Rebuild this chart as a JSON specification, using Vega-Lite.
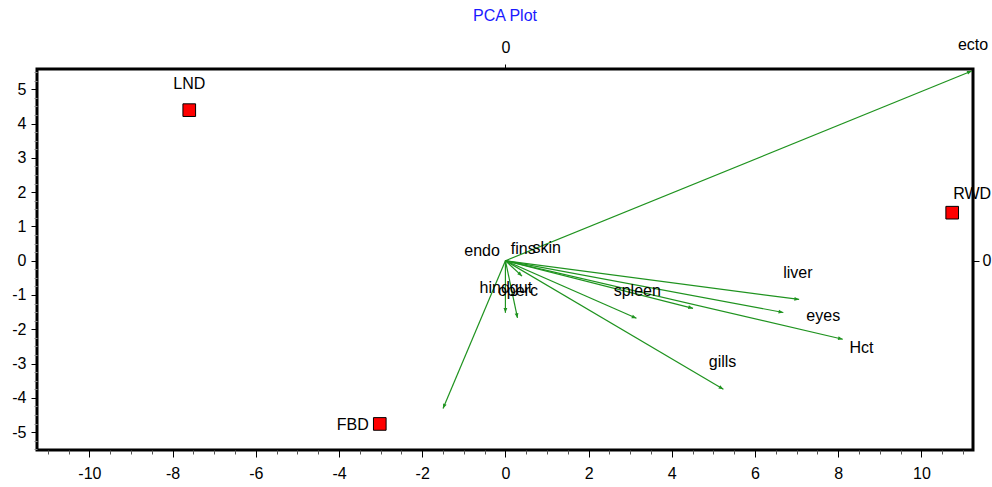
{
  "$schema": "https://vega.github.io/schema/vega-lite/v6.json",
  "width": 936,
  "height": 381,
  "autosize": {"type": "none"},
  "padding": {"left": 37, "top": 69, "right": 19, "bottom": 37},
  "background": "white",
  "title": {"text": "PCA Plot", "color": "#1a1aff", "fontSize": 16, "fontWeight": "normal", "font": "Liberation Sans", "offset": 13, "anchor": "middle"},
  "config": {
    "view": {"stroke": "black", "strokeWidth": 3},
    "font": "Liberation Sans",
    "axis": {"labelFont": "Liberation Sans", "labelFontSize": 16, "labelColor": "#000", "grid": false, "domain": false, "tickColor": "#000", "title": null, "labelOverlap": false, "labelFlush": false}
  },
  "datasets": {
    "scores": [
      {"site": "LND", "x": -7.60, "y": 4.39},
      {"site": "FBD", "x": -3.02, "y": -4.76},
      {"site": "RWD", "x": 10.74, "y": 1.40}
    ],
    "loadings": [
      {"var": "ecto", "x": 11.21, "y": 5.53, "lx": 11.24, "ly": 6.29},
      {"var": "liver", "x": 7.06, "y": -1.13, "lx": 7.03, "ly": -0.35},
      {"var": "eyes", "x": 6.68, "y": -1.51, "lx": 7.64, "ly": -1.62},
      {"var": "Hct", "x": 8.11, "y": -2.29, "lx": 8.56, "ly": -2.55},
      {"var": "gills", "x": 5.24, "y": -3.75, "lx": 5.22, "ly": -2.96},
      {"var": "spleen", "x": 3.15, "y": -1.68, "lx": 3.17, "ly": -0.89},
      {"var": "skin", "x": 4.51, "y": -1.39, "lx": 0.99, "ly": 0.38},
      {"var": "fins", "x": 0.40, "y": -0.45, "lx": 0.43, "ly": 0.34},
      {"var": "endo", "x": -1.50, "y": -4.31, "lx": -0.56, "ly": 0.28},
      {"var": "hindgut", "x": 0.0, "y": -1.52, "lx": 0.01, "ly": -0.80},
      {"var": "operc", "x": 0.29, "y": -1.67, "lx": 0.30, "ly": -0.88}
    ]
  },
  "layer": [
    {
      "data": {"name": "loadings"},
      "mark": {"type": "rule", "color": "#1f931f", "strokeWidth": 1.2},
      "encoding": {
        "x": {"field": "x", "type": "quantitative", "scale": {"domain": [-11.26, 11.24], "nice": false, "zero": false}, "axis": null},
        "y": {"field": "y", "type": "quantitative", "scale": {"domain": [-5.52, 5.59], "nice": false, "zero": false}, "axis": null},
        "x2": {"datum": 0},
        "y2": {"datum": 0}
      }
    },
    {
      "data": {"name": "loadings"},
      "mark": {"type": "point", "shape": "M0,0L-0.4,1L0.4,1Z", "size": 90, "filled": true, "color": "#1f931f", "opacity": 1, "angle": {"expr": "atan2(datum.x*41.6, datum.y*34.3)*180/PI"}},
      "encoding": {
        "x": {"field": "x", "type": "quantitative", "axis": {"orient": "top", "values": [0], "tickSize": 5, "labelPadding": 9}},
        "y": {"field": "y", "type": "quantitative", "axis": {"orient": "right", "values": [0], "tickSize": 6, "labelPadding": 3}}
      }
    },
    {
      "data": {"name": "scores"},
      "mark": {"type": "point", "shape": "square", "size": 160, "filled": true, "color": "#ff0000", "stroke": "#000", "strokeWidth": 1, "opacity": 1},
      "encoding": {
        "x": {"field": "x", "type": "quantitative", "axis": {"orient": "bottom",
          "values": [-11,-10.5,-10,-9.5,-9,-8.5,-8,-7.5,-7,-6.5,-6,-5.5,-5,-4.5,-4,-3.5,-3,-2.5,-2,-1.5,-1,-0.5,0,0.5,1,1.5,2,2.5,3,3.5,4,4.5,5,5.5,6,6.5,7,7.5,8,8.5,9,9.5,10,10.5,11],
          "labelExpr": "datum.value % 2 === 0 ? toString(datum.value) : ''",
          "tickSize": {"condition": {"test": "datum.value % 2 === 0", "value": 7}, "value": 4},
          "tickColor": {"condition": {"test": "datum.value % 2 === 0", "value": "#000"}, "value": "#555"},
          "labelPadding": 8}},
        "y": {"field": "y", "type": "quantitative", "axis": {"orient": "left",
          "values": [-5.5,-5.25,-5,-4.75,-4.5,-4.25,-4,-3.75,-3.5,-3.25,-3,-2.75,-2.5,-2.25,-2,-1.75,-1.5,-1.25,-1,-0.75,-0.5,-0.25,0,0.25,0.5,0.75,1,1.25,1.5,1.75,2,2.25,2.5,2.75,3,3.25,3.5,3.75,4,4.25,4.5,4.75,5,5.25,5.5],
          "labelExpr": "datum.value % 1 === 0 ? toString(datum.value) : ''",
          "tickSize": {"condition": {"test": "datum.value % 1 === 0", "value": 6}, "value": 3},
          "tickColor": {"condition": {"test": "datum.value % 1 === 0", "value": "#000"}, "value": "#888"},
          "labelPadding": 5}}
      }
    },
    {
      "data": {"name": "loadings"},
      "mark": {"type": "text", "fontSize": 16, "font": "Liberation Sans", "color": "#000", "align": "center", "baseline": "middle"},
      "encoding": {
        "x": {"field": "lx", "type": "quantitative", "axis": null},
        "y": {"field": "ly", "type": "quantitative", "axis": null},
        "text": {"field": "var"}
      }
    },
    {
      "data": {"name": "scores"},
      "transform": [{"filter": "datum.site === 'LND'"}],
      "mark": {"type": "text", "fontSize": 16, "font": "Liberation Sans", "color": "#000", "align": "center", "baseline": "middle", "dy": -26},
      "encoding": {
        "x": {"field": "x", "type": "quantitative", "axis": null},
        "y": {"field": "y", "type": "quantitative", "axis": null},
        "text": {"field": "site"}
      }
    },
    {
      "data": {"name": "scores"},
      "transform": [{"filter": "datum.site === 'FBD'"}],
      "mark": {"type": "text", "fontSize": 16, "font": "Liberation Sans", "color": "#000", "align": "right", "baseline": "middle", "dx": -11, "dy": 1},
      "encoding": {
        "x": {"field": "x", "type": "quantitative", "axis": null},
        "y": {"field": "y", "type": "quantitative", "axis": null},
        "text": {"field": "site"}
      }
    },
    {
      "data": {"name": "scores"},
      "transform": [{"filter": "datum.site === 'RWD'"}],
      "mark": {"type": "text", "fontSize": 16, "font": "Liberation Sans", "color": "#000", "align": "center", "baseline": "middle", "dx": 20, "dy": -19},
      "encoding": {
        "x": {"field": "x", "type": "quantitative", "axis": null},
        "y": {"field": "y", "type": "quantitative", "axis": null},
        "text": {"field": "site"}
      }
    }
  ],
  "resolve": {"axis": {"x": "independent", "y": "independent"}}
}
